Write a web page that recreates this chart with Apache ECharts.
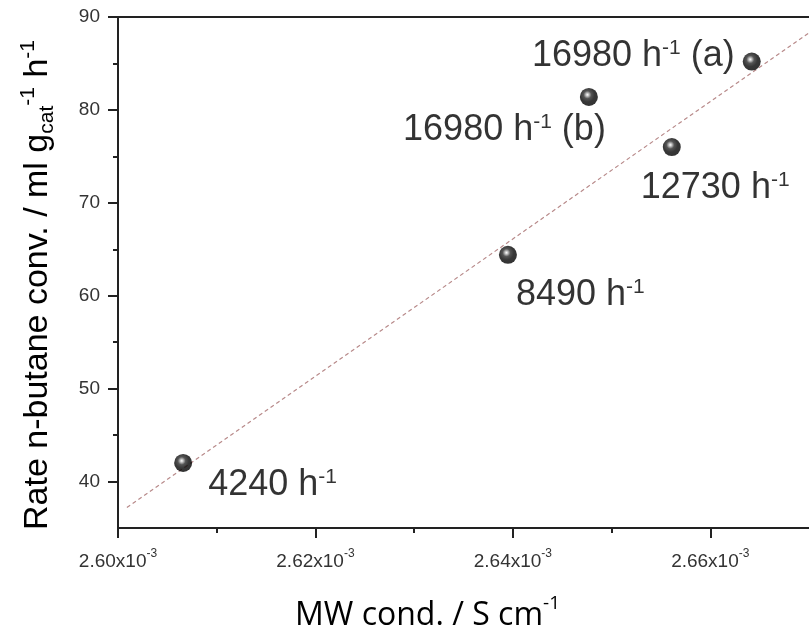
<!DOCTYPE html>
<html><head><meta charset="utf-8">
<script src="https://cdn.jsdelivr.net/npm/echarts@6/dist/echarts.min.js"></script>
<style>html,body{margin:0;padding:0;background:#fff}#c{width:809px;height:633px}</style>
</head><body><div id="c"></div>
<script>
// MW conductivity values, in units of 1e-3 S cm^-1
const conductivity = [2.6066, 2.6395, 2.6561, 2.6642, 2.6477];
// Rate of n-butane conversion, ml g_cat^-1 h^-1
const rate = [42.0, 64.4, 76.0, 85.2, 81.4];
// GHSV labels
const spaceVelocity = [4240, 8490, 12730, 16980, 16980];
const runTag = ['', '', '', ' (a)', ' (b)'];
// dashed linear trend line end points
const fitX = [2.6009, 2.67];
const fitY = [37.2, 88.3];
// ticks
const xMajorTicks = [2.60, 2.62, 2.64, 2.66];
const xMinorTicks = [2.61, 2.63, 2.65];
const yMajorTicks = [40, 50, 60, 70, 80, 90];
const yMinorTicks = [45, 55, 65, 75, 85];

const FONT = '"Liberation Sans", Arial, sans-serif';
const labelPlacement = [
  {align: 'left', offset: [25, 22]},
  {align: 'left', offset: [8, 40]},
  {align: 'left', offset: [-31, 41]},
  {align: 'right', offset: [-17, -6]},
  {align: 'right', offset: [17, 33]}
];

const sphere = {
  type: 'radial', x: 0.42, y: 0.38, r: 0.62,
  colorStops: [
    {offset: 0, color: '#ffffff'},
    {offset: 0.12, color: '#bdbdbd'},
    {offset: 0.35, color: '#2a2a2a'},
    {offset: 0.65, color: '#050505'},
    {offset: 1, color: '#000000'}
  ]
};

const points = conductivity.map((x, i) => ({
  value: [x, rate[i]],
  label: {
    show: true,
    position: 'inside',
    color: '#000',
    textBorderWidth: 0,
    align: labelPlacement[i].align,
    verticalAlign: 'middle',
    offset: labelPlacement[i].offset,
    formatter: '{m|' + spaceVelocity[i] + ' h}{s|-1}{m|' + runTag[i] + '}',
    rich: {
      m: {fontSize: 36, lineHeight: 36, color: '#000', fontFamily: FONT, verticalAlign: 'middle', textBorderWidth: 0},
      s: {fontSize: 21, lineHeight: 21, color: '#000', fontFamily: FONT, verticalAlign: 'top', textBorderWidth: 0}
    }
  }
}));

const axisLine = {show: true, lineStyle: {color: '#222', width: 2}};
const chart = echarts.init(document.getElementById('c'));
chart.setOption({
  animation: false,
  backgroundColor: '#fff',
  grid: {left: 118, right: 0, top: 17, bottom: 105, containLabel: false, outerBoundsMode: 'none'},
  xAxis: [
    {
      type: 'value', position: 'bottom', min: 2.60, max: 2.67,
      axisLine: axisLine,
      axisTick: {show: true, length: 10, lineStyle: {color: '#222', width: 2}, customValues: xMajorTicks},
      axisLabel: {
        show: true, margin: 20, customValues: xMajorTicks,
        formatter: v => '{n|' + v.toFixed(2) + 'x10}{s|-3}',
        rich: {
          n: {fontSize: 19, lineHeight: 23, color: '#333', fontFamily: FONT, verticalAlign: 'bottom'},
          s: {fontSize: 12, lineHeight: 12, color: '#333', fontFamily: FONT, verticalAlign: 'top'}
        }
      },
      splitLine: {show: false},
      name: '{m|MW cond. / S cm}{s|-1}',
      nameLocation: 'middle', nameGap: 66,
      nameTextStyle: {
        padding: [0, 72, 0, 0],
        rich: {
          m: {fontSize: 32, lineHeight: 38, color: '#000', fontFamily: '"Open Sans", sans-serif', verticalAlign: 'bottom'},
          s: {fontSize: 19, lineHeight: 19, color: '#000', fontFamily: '"Open Sans", sans-serif', verticalAlign: 'top'}
        }
      }
    },
    {
      type: 'value', position: 'bottom', min: 2.60, max: 2.67,
      axisLine: {show: false},
      axisTick: {show: true, length: 5, lineStyle: {color: '#222', width: 2}, customValues: xMinorTicks},
      axisLabel: {show: false}, splitLine: {show: false}
    },
    {
      type: 'value', position: 'top', min: 2.60, max: 2.67,
      axisLine: axisLine, axisTick: {show: false}, axisLabel: {show: false}, splitLine: {show: false}
    }
  ],
  yAxis: [
    {
      type: 'value', position: 'left', min: 35, max: 90,
      axisLine: axisLine,
      axisTick: {show: true, length: 10, lineStyle: {color: '#222', width: 2}, customValues: yMajorTicks},
      axisLabel: {show: true, margin: 18, customValues: yMajorTicks, fontSize: 19, color: '#333', fontFamily: FONT},
      splitLine: {show: false},
      name: '{m|Rate n-butane conv. / ml g}{b|cat}{s|-1}{m| h}{s|-1}',
      nameLocation: 'middle', nameGap: 60,
      nameTextStyle: {
        padding: [0, 25, 0, 0],
        rich: {
          m: {fontSize: 34, lineHeight: 40, color: '#000', fontFamily: FONT, verticalAlign: 'middle'},
          b: {fontSize: 21, lineHeight: 21, color: '#000', fontFamily: FONT, verticalAlign: 'bottom'},
          s: {fontSize: 21, lineHeight: 21, color: '#000', fontFamily: FONT, verticalAlign: 'top'}
        }
      }
    },
    {
      type: 'value', position: 'left', min: 35, max: 90,
      axisLine: {show: false},
      axisTick: {show: true, length: 5, lineStyle: {color: '#222', width: 2}, customValues: yMinorTicks},
      axisLabel: {show: false}, splitLine: {show: false}
    }
  ],
  series: [
    {
      type: 'line', xAxisIndex: 0, yAxisIndex: 0,
      data: fitX.map((x, i) => [x, fitY[i]]),
      showSymbol: false, symbol: 'none', silent: true,
      lineStyle: {color: '#b88a8a', width: 1.2, type: [4, 3]},
      z: 1
    },
    {
      type: 'scatter', xAxisIndex: 0, yAxisIndex: 0,
      symbol: 'circle', symbolSize: 18,
      itemStyle: {color: sphere},
      data: points, z: 3
    }
  ]
});
</script>
</body></html>
